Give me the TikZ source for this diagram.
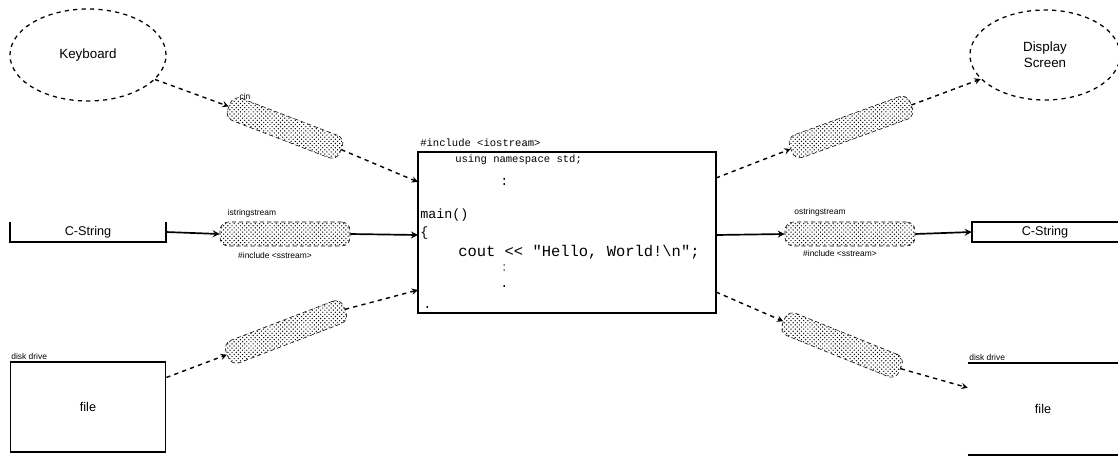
\documentclass[tikz,border=0pt]{standalone}
\usepackage{fontspec}
\setmainfont{Liberation Sans}
\setmonofont{Liberation Mono}
\usetikzlibrary{patterns,shapes.geometric}

\begin{document}
\begin{tikzpicture}[x=0.025cm, y=-0.025cm,
      device/.style={ellipse, draw, dashed, line width=0.9pt, align=center,
        font=\fontsize{9.5}{11.5}\selectfont},
      pipe/.style={draw, densely dashed, rounded corners=6pt, pattern=crosshatch dots,
        minimum height=0.6cm, inner sep=0pt},
      store/.style={minimum width=3.875cm, inner sep=0pt, font=\fontsize{9}{11}\selectfont},
      pipelabel/.style={font=\fontsize{6}{7}\selectfont},
      code/.style={font=\ttfamily\fontsize{9.5}{11}\selectfont, anchor=west, inner sep=0pt},
      flow/.style={->, dashed, line width=1pt},
      feed/.style={->, line width=1.2pt},
      >=stealth
    ]
    \useasboundingbox (0,0) rectangle (1118,462);

    %-----------------------------
    % devices and stores
    %-----------------------------
    \node[device, minimum width=3.9cm, minimum height=2.3cm] (kbd) at (88,55) {Keyboard};
    \node[device, minimum width=3.75cm, minimum height=2.25cm] (screen) at (1045,55) {Display\\Screen};

    \node[store, minimum height=0.5cm] (cstrin) at (88,232) {C-String};
    \draw[line width=1.2pt] (cstrin.north west) -- (cstrin.south west)
      -- (cstrin.south east) -- (cstrin.north east);
    \node[store, minimum width=3.65cm, minimum height=0.5cm] (cstrout) at (1045,232) {C-String};
    \draw[line width=1.2pt] (cstrout.north east) -- (cstrout.north west)
      -- (cstrout.south west) -- (cstrout.south east);

    \node[store, draw, line width=1.2pt, minimum height=2.25cm] (filein) at (88,407) {file};
    \node[pipelabel, anchor=south west, inner sep=1pt] (fileinlbl) at (filein.north west) {disk drive};
    \node[store, minimum width=3.75cm, minimum height=2.3cm] (fileout) at (1043,409) {file};
    \draw[line width=1.2pt] (fileout.north west) -- (fileout.north east);
    \draw[line width=1.2pt] (fileout.south west) -- (fileout.south east);
    \node[pipelabel, anchor=south west, inner sep=1pt] (fileoutlbl) at (fileout.north west) {disk drive};

    %-----------------------------
    % program
    %-----------------------------
    \node[draw, line width=1.2pt, minimum width=7.45cm, minimum height=4.025cm] (prog) at (567,232.5) {};
    \node[code, font=\ttfamily\fontsize{7.5}{9}\selectfont] (hdr1) at (420,143) {\#include <iostream>};
    \node[code, font=\ttfamily\fontsize{7.5}{9}\selectfont] (hdr2) at (455,160) {using namespace std;};
    \node[code] (dots1) at (500,182) {:};
    \node[code] (mainln) at (420,215) {main()};
    \node[code] (brace) at (420,233) {\{};
    \node[code, font=\ttfamily\fontsize{11}{13}\selectfont] (coutln) at (458,252) {cout << "Hello, World!\textbackslash n";};
    \node[code, text=gray] (dots2) at (500,268) {:};
    \node[code] (dots3) at (500,287) {.};
    \node[code] (dots4) at (423,308) {.};

    \coordinate (inA) at (418,182);
    \coordinate (inB) at (418,235);
    \coordinate (inC) at (418,290);
    \coordinate (outA) at (716,178);
    \coordinate (outB) at (716,235);
    \coordinate (outC) at (716,292);

    %-----------------------------
    % streams
    %-----------------------------
    \node[pipe, minimum width=3.0cm, rotate=-21] (sin1) at (285,128) {};
    \node[pipelabel] (sin1lbl) at (245,96) {cin};
    \node[pipe, minimum width=3.25cm] (sin2) at (285,234) {};
    \node[pipelabel] (sin2top) at (252,213) {istringstream};
    \node[pipelabel] (sin2bot) at (275,255) {\#include <sstream>};
    \node[pipe, minimum width=3.15cm, rotate=21] (sin3) at (286,332) {};

    \node[pipe, minimum width=3.2cm, rotate=20] (sout1) at (851,127) {};
    \node[pipe, minimum width=3.25cm] (sout2) at (850,234) {};
    \node[pipelabel] (sout2top) at (820,212) {ostringstream};
    \node[pipelabel] (sout2bot) at (840,253) {\#include <sstream>};
    \node[pipe, minimum width=3.15cm, rotate=-22] (sout3) at (842,345) {};

    %-----------------------------
    % connectors
    %-----------------------------
    \draw[flow] (kbd) -- (sin1.west);
    \draw[flow] (sin1.east) -- (inA);
    \draw[feed] (cstrin.east) -- (sin2.west);
    \draw[feed] (sin2.east) -- (inB);
    \draw[flow] (filein) -- (sin3.west);
    \draw[flow] (sin3.east) -- (inC);

    \draw[flow] (outA) -- (sout1.west);
    \draw[flow] (sout1.east) -- (screen);
    \draw[feed] (outB) -- (sout2.west);
    \draw[feed] (sout2.east) -- (cstrout.west);
    \draw[flow] (outC) -- (sout3.west);
    \draw[flow] (sout3.east) -- (fileout);

  \end{tikzpicture}
\end{document}
